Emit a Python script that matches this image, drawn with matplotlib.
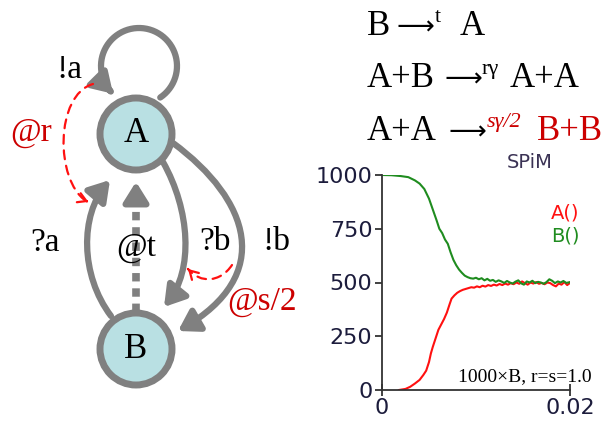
import numpy as np
import matplotlib.pyplot as plt
from matplotlib.patches import Circle, FancyArrowPatch
from matplotlib.path import Path

# SPiM simulation, 1000 x B, r = s = 1.0
t_b = [0.0, 0.001, 0.002, 0.0028, 0.0035, 0.004, 0.0045, 0.005, 0.0054, 0.0058,
       0.0061, 0.0064, 0.0067, 0.007, 0.0073, 0.0076, 0.0079, 0.0082, 0.0085, 0.0088,
       0.0091, 0.0094, 0.0097, 0.010, 0.0103, 0.0106, 0.0109, 0.0112, 0.0115, 0.0118,
       0.0121, 0.0124, 0.0127, 0.013, 0.0133, 0.0136, 0.0139, 0.0142, 0.0145, 0.0148,
       0.0151, 0.0154, 0.0157, 0.016, 0.0163, 0.0166, 0.0169, 0.0172, 0.0175, 0.0178,
       0.0181, 0.0184, 0.0187, 0.019, 0.0193, 0.0196, 0.020]
b_count = [1000, 999, 995, 990, 975, 960, 935, 890, 840, 790,
           750, 730, 700, 680, 640, 605, 580, 560, 545, 532,
           525, 520, 518, 522, 515, 520, 510, 517, 508, 512,
           503, 510, 505, 498, 507, 500, 495, 504, 510, 496,
           490, 505, 500, 508, 497, 503, 500, 494, 502, 515,
           508, 497, 505, 500, 507, 498, 502]
t_a = [0.0018, 0.0025, 0.003, 0.0035, 0.004, 0.0044, 0.0047, 0.005, 0.0052, 0.0054,
       0.0057, 0.006, 0.0063, 0.0066, 0.0069, 0.0072, 0.0074, 0.0077, 0.008, 0.0083,
       0.0086, 0.0089, 0.0092, 0.0095, 0.0098, 0.0101, 0.0104, 0.0107, 0.011, 0.0113,
       0.0116, 0.0119, 0.0122, 0.0125, 0.0128, 0.0131, 0.0134, 0.0137, 0.014, 0.0143,
       0.0146, 0.0149, 0.0152, 0.0155, 0.0158, 0.0161, 0.0164, 0.0167, 0.017, 0.0173,
       0.0176, 0.0179, 0.0182, 0.0185, 0.0188, 0.0191, 0.0194, 0.0197, 0.020]
a_count = [0, 5, 15, 30, 47, 70, 90, 130, 170, 200,
           240, 280, 305, 330, 360, 400, 425, 440, 452, 460,
           466, 470, 474, 478, 476, 482, 478, 485, 481, 488,
           484, 490, 486, 493, 488, 495, 490, 497, 492, 500,
           494, 505, 497, 490, 500, 495, 502, 494, 498, 492,
           500, 497, 488, 482, 495, 490, 502, 488, 498]
y_ticks = [0, 250, 500, 750, 1000]
x_ticks = [0, 0.02]
x_labels = ['0', '0.02']

GRAY = '#808080'
FILL = '#b9e0e3'
DARKRED = '#cc0000'
RED = '#ff1010'
GREEN = '#1f8c1f'
SERIF = 'Liberation Serif'
SANS = 'DejaVu Sans'

fig = plt.figure(figsize=(6.03, 4.26), dpi=100)
ax = fig.add_axes([0, 0, 1, 1])
ax.set_xlim(0, 603)
ax.set_ylim(426, 0)
ax.axis('off')


def curve(pts, color, lw, style, **kw):
    path = Path(pts, [Path.MOVETO] + [Path.CURVE4] * (len(pts) - 1))
    ax.add_patch(FancyArrowPatch(path=path, arrowstyle=style, color=color, lw=lw,
                                 mutation_scale=1, **kw))


head = '-|>,head_length=12,head_width=7.5'

# self loop on A
ang = np.radians(np.linspace(56, -227, 60))
loop = np.column_stack([139 + 38 * np.cos(ang), 66 + 38 * np.sin(ang)])
ax.add_patch(FancyArrowPatch(path=Path(loop), arrowstyle=head, color=GRAY, lw=4.5,
                             mutation_scale=1))

# B -> A (?a), A -> B (?b, !b)
curve([(111, 316), (80, 275), (80, 215), (110, 180)], GRAY, 4.5, head)
curve([(163, 162), (190, 210), (194, 270), (164, 307)], GRAY, 4.5, head)
curve([(173, 143), (250, 200), (275, 275), (178, 331)], GRAY, 4.5, head)

# dotted delay @t
ax.plot([136, 136], [312, 196], color=GRAY, lw=5.5, dashes=(1.1, 0.9),
        solid_capstyle='butt', dash_capstyle='butt')
ax.add_patch(FancyArrowPatch((136, 199), (136, 179), arrowstyle=head, color=GRAY,
                             lw=4.5, mutation_scale=1))

# red dashed interactions
curve([(93, 84), (55, 95), (55, 180), (86, 201)], RED, 1.6, '-', linestyle=(0, (4, 3)))
ax.add_patch(FancyArrowPatch((84, 200), (91, 203), arrowstyle='->,head_length=6,head_width=3.5',
                             color=RED, lw=1.6, mutation_scale=1))
curve([(232, 265), (220, 283), (200, 283), (189, 270)], RED, 1.6, '-', linestyle=(0, (4, 3)))
ax.add_patch(FancyArrowPatch((190, 271), (186, 267), arrowstyle='->,head_length=6,head_width=3.5',
                             color=RED, lw=1.6, mutation_scale=1))

# nodes
for cy, name in [(134, 'A'), (349, 'B')]:
    ax.add_patch(Circle((136, cy), 36, fc=FILL, ec=GRAY, lw=5, zorder=3))
    ax.text(136, cy, name, ha='center', va='center', fontsize=25, family=SERIF, zorder=4)

# edge labels
for x, y, s, c in [(69, 70, '!a', 'black'), (45, 243, '?a', 'black'), (136, 248, '@t', 'black'),
                   (215, 242, '?b', 'black'), (276, 242, '!b', 'black'),
                   (31, 133, '@r', DARKRED), (262, 302, '@s/2', DARKRED)]:
    ax.text(x, y, s, ha='center', va='center', fontsize=24, family=SERIF, color=c)

# reactions
eq = dict(fontsize=25, family=SERIF, va='baseline', ha='left')
sup = dict(fontsize=16, family=SERIF, va='baseline', ha='left')
arr = dict(fontsize=19, family=SANS, va='center', ha='left')
ax.text(367, 35, 'B', **eq)
ax.text(396, 28, '\u27f6', **arr)
ax.text(435, 22, 't', **sup)
ax.text(460, 35, 'A', **eq)
ax.text(367, 87, 'A+B', **eq)
ax.text(445, 80, '\u27f6', **arr)
ax.text(482, 74, 'r\u03b3', **sup)
ax.text(510, 87, 'A+A', **eq)
ax.text(367, 140, 'A+A', **eq)
ax.text(449, 133, '\u27f6', **arr)
ax.text(487, 127, 's\u03b3/2', color=DARKRED, style='italic', **sup)
ax.text(537, 140, 'B+B', color=DARKRED, **eq)

# SPiM inset
ax.text(530, 163, 'SPiM', ha='center', va='center', fontsize=14, family=SANS,
        color='#3b3355')
ax.text(551, 213, 'A()', ha='left', va='center', fontsize=14, family=SANS, color=RED)
ax.text(551, 236, 'B()', ha='left', va='center', fontsize=14, family=SANS, color=GREEN)
ax.text(458, 377, '1000\u00d7B, r=s=1.0', ha='left', va='center', fontsize=14, family=SERIF)

ins = fig.add_axes([382 / 603, 1 - 390 / 426, 188 / 603, 215 / 426])
ins.patch.set_alpha(0)
ins.plot(t_a, a_count, color=RED, lw=1.5)
ins.plot(t_b, b_count, color=GREEN, lw=1.5)
ins.set_xlim(0, 0.02)
ins.set_ylim(0, 1000)
ins.set_yticks(y_ticks)
ins.set_xticks(x_ticks, x_labels)
for s in ['top', 'right']:
    ins.spines[s].set_visible(False)
for s in ['left', 'bottom']:
    ins.spines[s].set_color('#333333')
    ins.spines[s].set_linewidth(1.3)
ins.tick_params(axis='y', direction='out', length=5, width=1.3, color='#333333', pad=2,
                labelsize=16, labelcolor='#1c1c3c')
ins.tick_params(axis='x', direction='inout', length=8, width=1.3, color='#333333', pad=2,
                labelsize=16, labelcolor='#1c1c3c')
for lab in ins.get_xticklabels() + ins.get_yticklabels():
    lab.set_family(SANS)

fig.savefig('out.png', dpi=100)
